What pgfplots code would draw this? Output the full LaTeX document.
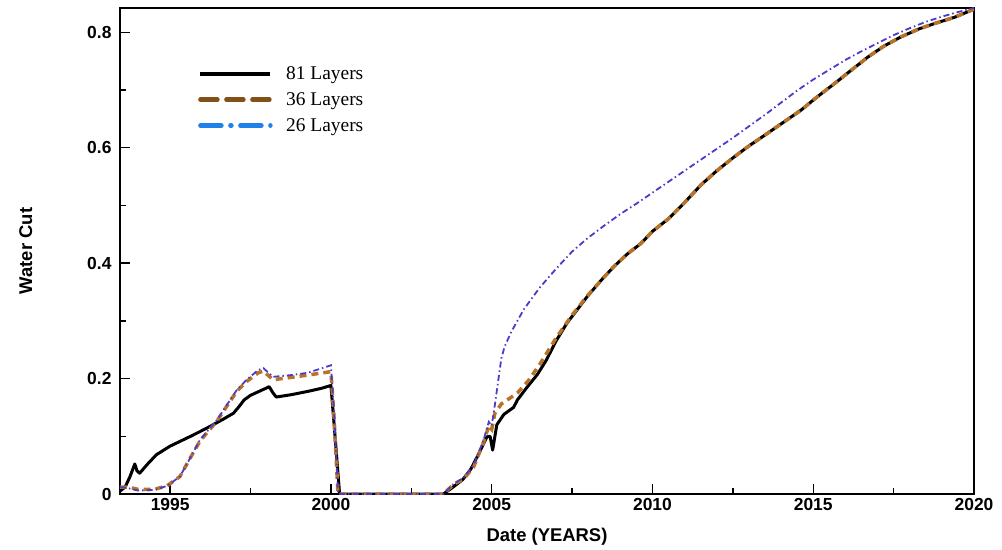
\documentclass[border=0pt]{standalone}
\usepackage{fontspec}
\setmainfont{Liberation Sans}
\newfontfamily\legfont{Liberation Serif}
\usepackage{pgfplots}
\pgfplotsset{compat=1.18}

\definecolor{c81}{RGB}{0,0,0}
\definecolor{c36}{RGB}{185,115,40}
\definecolor{c36leg}{RGB}{130,80,25}
\definecolor{c26}{RGB}{75,60,200}
\definecolor{c26leg}{RGB}{30,130,230}

\begin{document}
\begin{tikzpicture}
\begin{axis}[
  name=ax,
  scale only axis,
  width=854bp, height=486bp,
  xmin=1993.44, xmax=2020,
  ymin=0, ymax=0.842,
  xtick={1995,2000,2005,2010,2015,2020},
  ytick={0,0.2,0.4,0.6,0.8},
  minor x tick num=1,
  minor y tick num=1,
  tick pos=left,
  tick align=inside,
  major tick length=10bp,
  minor tick length=6bp,
  tick style={line width=1.4bp, black},
  axis line style={line width=2bp},
  /pgf/number format/1000 sep={},
  /pgf/number format/assume math mode=true,
  ticklabel style={font=\fontsize{17.5}{20}\selectfont\bfseries},
  yticklabel style={xshift=-5bp},
  xticklabel style={yshift=-1bp},
  xlabel={Date (YEARS)},
  ylabel={Water Cut},
  label style={font=\fontsize{18.5}{22}\selectfont\bfseries},
  xlabel style={yshift=-10bp},
  ylabel style={yshift=48bp},
  legend image code/.code={\draw[#1] (0bp,0bp) -- (70bp,0bp);},
  legend style={draw=none, fill=none, at={(0.0913,0.885)}, anchor=north west,
    font=\legfont\fontsize{19.5}{22}\selectfont, inner sep=0pt,
    row sep=6.5bp,
    nodes={inner sep=2.5bp},
    /tikz/every odd column/.append style={column sep=11bp}},
  legend cell align=left,
]
\addlegendimage{c81, line width=3.5bp}
\addlegendentry{81 Layers}
\addlegendimage{c36leg, line width=4.5bp, line cap=round, dash pattern=on 17bp off 9bp}
\addlegendentry{36 Layers}
\addlegendimage{c26leg, line width=4.5bp, line cap=round, dash pattern=on 21bp off 9bp on 1bp off 9bp}
\addlegendentry{26 Layers}

% 81 layers
\addplot[c81, line width=3bp, line join=round, forget plot] coordinates {
(1993.44,0.005) (1993.6,0.012) (1993.75,0.03) (1993.9,0.052) (1993.97,0.04)
(1994.05,0.036) (1994.3,0.052) (1994.57,0.068) (1995.0,0.083) (1995.6,0.099)
(1996.1,0.113) (1996.6,0.128) (1996.97,0.140) (1997.15,0.152) (1997.3,0.163)
(1997.5,0.171) (1997.97,0.183) (1998.08,0.186) (1998.2,0.175) (1998.3,0.168)
(1998.76,0.172) (1999.3,0.178) (1999.7,0.183) (2000.0,0.188) (2000.1,0.12)
(2000.27,0.0) (2003.5,0.0) (2003.8,0.012) (2004.1,0.025) (2004.35,0.043)
(2004.6,0.07) (2004.85,0.099) (2004.95,0.10) (2005.03,0.076) (2005.1,0.10)
(2005.16,0.12) (2005.38,0.138) (2005.68,0.150) (2005.8,0.163) (2006.1,0.185)
(2006.42,0.207) (2006.7,0.232) (2007.0,0.265) (2007.34,0.296) (2007.97,0.342)
(2008.4,0.37) (2008.8,0.394) (2009.2,0.415) (2009.64,0.434) (2010.0,0.455)
(2010.5,0.477) (2011.0,0.505) (2011.5,0.535) (2012.0,0.56) (2012.54,0.584)
(2013.0,0.603) (2013.58,0.625) (2014.1,0.645) (2014.62,0.665) (2015.1,0.687)
(2015.66,0.711) (2016.2,0.735) (2016.7,0.757) (2017.2,0.776) (2017.73,0.792)
(2018.3,0.806) (2018.77,0.815) (2019.4,0.826) (2020.0,0.84)
};

% 36 layers
\addplot[c36, line width=3.5bp, dash pattern=on 7bp off 5bp, forget plot] coordinates {
(1993.44,0.012) (1993.7,0.012) (1994.0,0.008) (1994.5,0.008) (1994.9,0.014)
(1995.3,0.03) (1995.6,0.06) (1995.93,0.092) (1996.45,0.126) (1997.07,0.178)
(1997.38,0.195) (1997.74,0.21) (1997.9,0.213) (1998.2,0.198) (1998.76,0.202)
(1999.28,0.206) (2000.0,0.212) (2000.1,0.13) (2000.22,0.0) (2003.5,0.0)
(2003.82,0.017) (2004.13,0.026) (2004.44,0.047) (2004.75,0.09) (2004.91,0.118)
(2005.0,0.112) (2005.1,0.14) (2005.3,0.156) (2005.8,0.175) (2006.15,0.197)
(2006.5,0.225) (2007.0,0.27) (2007.5,0.31) (2008.0,0.345) (2008.4,0.37)
(2008.8,0.394) (2009.2,0.415) (2009.64,0.434) (2010.0,0.455) (2010.5,0.477)
(2011.0,0.505) (2011.5,0.535) (2012.0,0.56) (2012.54,0.584) (2013.0,0.603)
(2013.58,0.625) (2014.1,0.645) (2014.62,0.665) (2015.1,0.687) (2015.66,0.711)
(2016.2,0.735) (2016.7,0.757) (2017.2,0.776) (2017.73,0.792) (2018.3,0.806)
(2018.77,0.815) (2019.4,0.826) (2020.0,0.84)
};

% 26 layers
\addplot[c26, line width=1.8bp, dash pattern=on 6bp off 3bp on 1.5bp off 3bp, forget plot] coordinates {
(1993.44,0.012) (1993.7,0.01) (1994.0,0.006) (1994.5,0.007) (1994.9,0.014)
(1995.3,0.03) (1995.6,0.06) (1995.93,0.094) (1996.45,0.128) (1997.07,0.18)
(1997.38,0.198) (1997.74,0.215) (1997.9,0.218) (1998.2,0.203) (1998.76,0.206)
(1999.28,0.21) (2000.0,0.223) (2000.1,0.14) (2000.22,0.0) (2003.5,0.0)
(2003.82,0.018) (2004.13,0.028) (2004.44,0.05) (2004.75,0.094) (2004.91,0.125)
(2005.0,0.118) (2005.1,0.155) (2005.2,0.195) (2005.3,0.235) (2005.4,0.255)
(2005.6,0.28) (2006.0,0.32) (2006.5,0.358) (2007.0,0.39) (2007.5,0.42)
(2008.0,0.444) (2008.5,0.465) (2009.0,0.485) (2009.5,0.503) (2010.0,0.522)
(2010.5,0.541) (2011.0,0.560) (2011.5,0.579) (2012.0,0.598) (2012.5,0.617)
(2013.0,0.637) (2013.5,0.657) (2014.0,0.678) (2014.5,0.699) (2015.0,0.718)
(2015.5,0.735) (2016.0,0.752) (2016.5,0.767) (2017.0,0.781) (2017.5,0.795)
(2018.0,0.807) (2018.5,0.818) (2019.0,0.827) (2019.5,0.835) (2020.0,0.842)
};
\end{axis}
\pgfresetboundingbox
\path[use as bounding box] ([shift={(-120bp,-56bp)}]ax.south west) rectangle ([shift={(28bp,8bp)}]ax.north east);
\end{tikzpicture}
\end{document}
